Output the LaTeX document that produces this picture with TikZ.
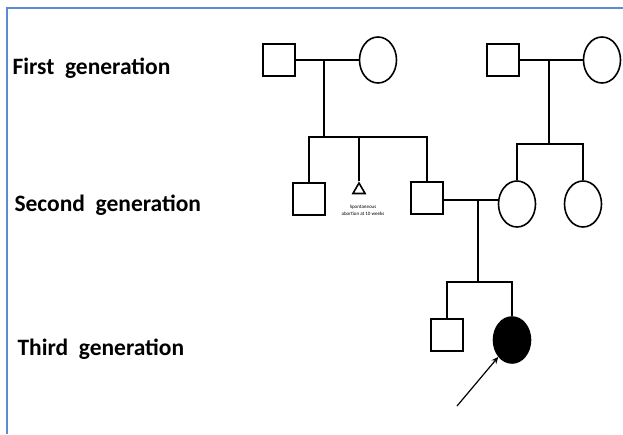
\documentclass[tikz,border=0pt]{standalone}
\usepackage{fontspec}
\setmainfont{Carlito}
\usepackage{tikz}
\usetikzlibrary{shapes.geometric,arrows.meta}
\definecolor{frameblue}{HTML}{5B8BD0}

\tikzset{
	male/.style={draw, line width=1.6pt, minimum size=32pt, inner sep=0pt},
	female/.style={draw, ellipse, line width=1.6pt, minimum width=37pt, minimum height=46pt, inner sep=0pt},
	affected/.style={female, fill=black},
	loss/.style={draw, regular polygon, regular polygon sides=3, line width=1.6pt, minimum size=14pt, inner sep=0pt},
	genlabel/.style={anchor=west, font=\bfseries\fontsize{23.5}{26}\selectfont},
	line/.style={line width=1.6pt}
}

\begin{document}
\begin{tikzpicture}[x=1pt,y=-1pt]
	\useasboundingbox (0,0) rectangle (623,434);
	\draw[frameblue, line width=1.2pt] (7,434) -- (7,8) -- (623,8);

	% generation labels
	\node[genlabel] (g1) at (9,68) {First\ \ generation};
	\node[genlabel] (g2) at (11,205) {Second\ \ generation};
	\node[genlabel] (g3) at (14,349) {Third\ \ generation};

	% first generation
	\node[male] (gf1) at (279,60) {};
	\node[female] (gm1) at (378,60) {};
	\node[male] (gf2) at (503,60) {};
	\node[female] (gm2) at (602,60) {};
	\coordinate (u1) at (324,60);
	\coordinate (u2) at (549,60);
	\draw[line] (gf1) -- (gm1);
	\draw[line] (gf2) -- (gm2);

	% second generation
	\node[male] (b1) at (309,199) {};
	\node[loss] (ab) at (359,190) {};
	\node[align=center, font=\fontsize{5}{7}\selectfont] (abtxt) at (363,210) {Spontaneous\\abortion at 10 weeks};
	\node[male] (fa) at (427,198) {};
	\node[female] (mo) at (517,204) {};
	\node[female] (s1) at (583,204) {};
	\coordinate (k1) at (324,137);
	\coordinate (k2) at (549,144);
	\draw[line] (u1) -- (k1);
	\draw[line] (b1.north) |- (k1) -| (fa.north);
	\draw[line] (ab.north) -- (ab.north |- k1);
	\draw[line] (u2) -- (k2);
	\draw[line] (mo.north) |- (k2) -| (s1.north);
	\draw[line] (fa.east |- 0,200) -- (mo.west |- 0,200);

	% third generation
	\node[male] (b2) at (447,335) {};
	\node[affected] (pr) at (512,340) {};
	\coordinate (u3) at (478,200);
	\coordinate (k3) at (478,282);
	\draw[line] (u3) -- (k3);
	\draw[line] (b2.north) |- (k3) -| (pr.north);

	% proband arrow
	\coordinate (tail) at (457,406);
	\draw[line width=1.2pt, -{Stealth[length=7pt,width=6pt]}] (tail) -- (pr.south west);
\end{tikzpicture}
\end{document}
